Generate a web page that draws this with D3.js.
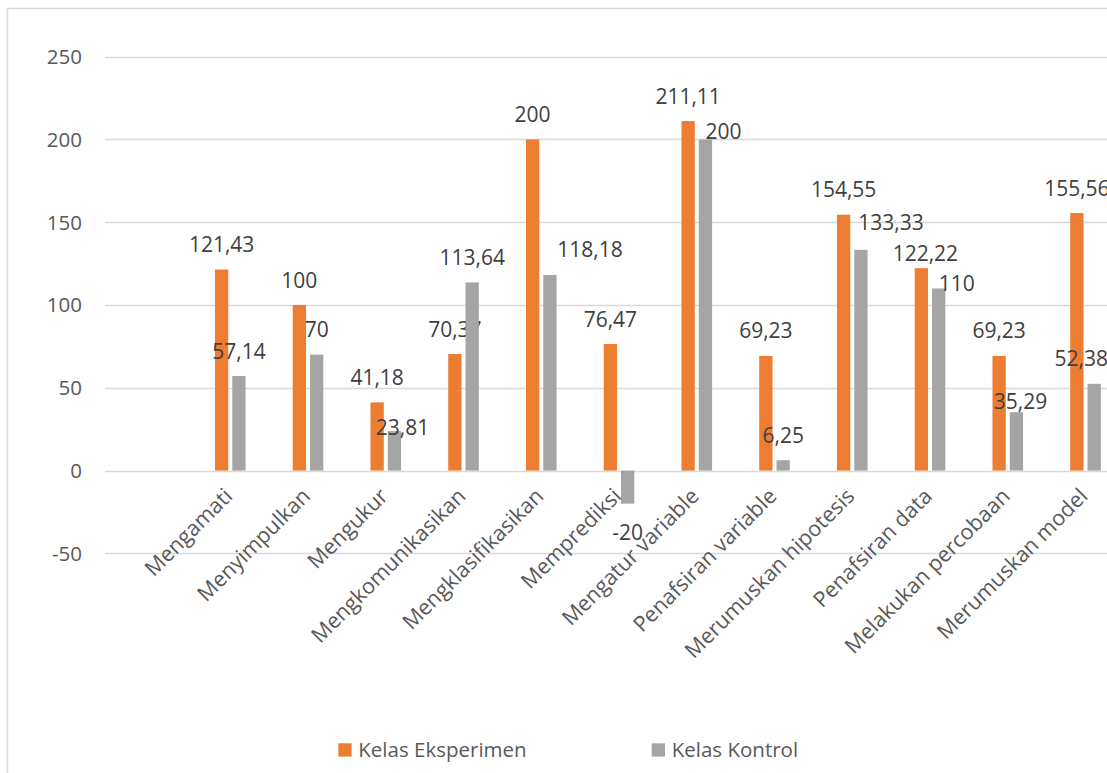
<!DOCTYPE html>
<html><head><meta charset="utf-8">
<script src="https://cdn.jsdelivr.net/npm/d3@7"></script>
<style>body{margin:0;background:#fff} svg{display:block}</style>
</head><body><svg id="c" width="1107" height="773"></svg>
<script>
const categories = ["Mengamati","Menyimpulkan","Mengukur","Mengkomunikasikan","Mengklasifikasikan","Memprediksi","Mengatur variable","Penafsiran variable","Merumuskan hipotesis","Penafsiran data","Melakukan percobaan","Merumuskan model"];
const seriesNames = ["Kelas Eksperimen","Kelas Kontrol"];
const eksperimen = [121.43,100,41.18,70.37,200,76.47,211.11,69.23,154.55,122.22,69.23,155.56];
const kontrol = [57.14,70,23.81,113.64,118.18,-20,200,6.25,133.33,110,35.29,52.38];
const yTicks = [-50,0,50,100,150,200,250];
// label offsets (Excel moved some labels to avoid overlap)
const nudgeEksperimen = [[0,0],[0,0],[0,0],[0,0],[0,0],[0,0],[0,0],[0,0],[0,0],[4,10],[0,0],[0,0]];
const nudgeKontrol = [[0,0],[0,0],[8,21],[0,0],[40,0],[0,4],[18,17],[0,0],[30,-2],[18,20],[4,14],[-13,0]];
const colors = ["#ED7D31","#A5A5A5"];

const svg = d3.select("#c");
const FONT = "'Open Sans', sans-serif";

// chart border
svg.append("rect").attr("x",7.5).attr("y",8.5).attr("width",1200).attr("height",800)
  .attr("fill","none").attr("stroke","#d9d9d9").attr("stroke-width",1.5);

const y = d3.scaleLinear().domain([-50,250]).range([553.3,56.7]);
const x = d3.scaleBand().domain(categories).range([191.4,1124.4]);
const xs = d3.scaleBand().domain(seriesNames)
  .range([x.bandwidth()/2-15.3, x.bandwidth()/2+15.3]).paddingInner(0.231);

// gridlines
svg.append("g").selectAll("line").data(yTicks).join("line")
  .attr("x1",105).attr("x2",1107)
  .attr("y1",d=>Math.round(y(d))+0.5).attr("y2",d=>Math.round(y(d))+0.5)
  .attr("stroke","#d9d9d9").attr("stroke-width",1.3);

// y tick labels
svg.append("g").selectAll("text").data(yTicks).join("text")
  .attr("x",82).attr("y",d=>y(d)).attr("dy","0.36em")
  .attr("text-anchor","end").attr("font-family",FONT).attr("font-size",20.5)
  .attr("fill","#595959").text(d=>d);

const series = [
  {name:seriesNames[0], values:eksperimen, nudge:nudgeEksperimen, color:colors[0]},
  {name:seriesNames[1], values:kontrol, nudge:nudgeKontrol, color:colors[1]}
];

const fmt = v => String(v).replace(".", ",");

series.forEach(s => {
  const g = svg.append("g");
  g.selectAll("rect").data(s.values).join("rect")
    .attr("x",(d,i)=>x(categories[i])+xs(s.name))
    .attr("width",xs.bandwidth())
    .attr("y",d=>y(Math.max(0,d)))
    .attr("height",d=>Math.abs(y(d)-y(0)))
    .attr("fill",s.color);
  g.selectAll("text").data(s.values).join("text")
    .attr("x",(d,i)=>x(categories[i])+xs(s.name)+xs.bandwidth()/2+s.nudge[i][0])
    .attr("y",(d,i)=>(d>=0 ? y(d)-25 : y(d)+25)+s.nudge[i][1])
    .attr("dy","0.36em")
    .attr("text-anchor","middle").attr("font-family",FONT).attr("font-size",21)
    .attr("fill","#404040").text(d=>fmt(d));
});

// category labels
svg.append("g").selectAll("text").data(categories).join("text")
  .attr("transform",d=>`translate(${x(d)+x.bandwidth()/2-2},492) rotate(-45)`)
  .attr("dy","0.36em")
  .attr("text-anchor","end").attr("font-family",FONT).attr("font-size",21.5)
  .attr("fill","#595959").text(d=>d);

// legend
const legendX = [338.3, 651.7];
const lg = svg.append("g").selectAll("g").data(series).join("g")
  .attr("transform",(d,i)=>`translate(${legendX[i]},743.3)`);
lg.append("rect").attr("width",13.3).attr("height",13.3).attr("fill",d=>d.color);
lg.append("text").attr("x",20).attr("y",6.7).attr("dy","0.36em")
  .attr("font-family",FONT).attr("font-size",20.5).attr("fill","#595959").text(d=>d.name);
</script>
</body></html>
